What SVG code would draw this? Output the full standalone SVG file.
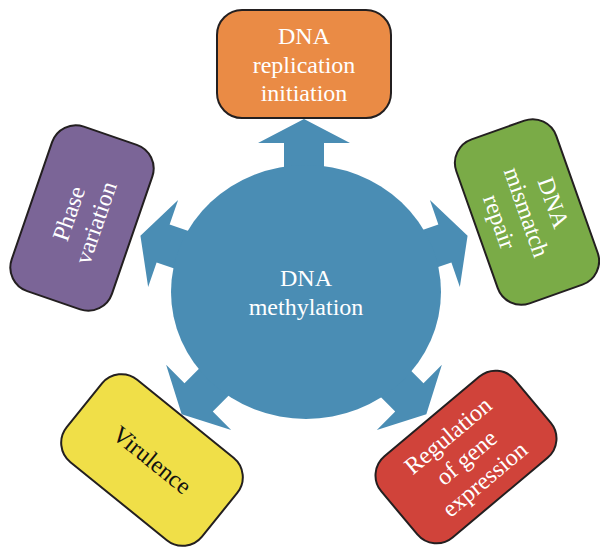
<svg xmlns="http://www.w3.org/2000/svg" width="600" height="547" viewBox="0 0 600 547">
<defs>
<style>
.box{stroke:#231f20;stroke-width:2}
.t{font-family:"Liberation Serif","Times New Roman",serif;font-size:24px;text-anchor:middle;fill:#fff}
.dark{fill:#111}
.arrow{fill:#4a8db4}
</style>
<polygon id="arr" points="-20,-100 -20,-149 -46,-149 0,-173 46,-149 20,-149 20,-100"/>
</defs>
<rect width="600" height="547" fill="#fff"/>
<g id="connectors" class="arrow">
<use href="#arr" transform="translate(304,292) rotate(0)"/>
<use href="#arr" transform="translate(304,292) rotate(71)"/>
<use href="#arr" transform="translate(304,292) rotate(135)"/>
<use href="#arr" transform="translate(304,292) rotate(225)"/>
<use href="#arr" transform="translate(304,292) rotate(-71)"/>
</g>
<g id="dna-methylation">
<ellipse cx="306" cy="292" rx="135" ry="127" fill="#4a8db4"/>
<text class="t" x="306" y="286">DNA</text>
<text class="t" x="306" y="315">methylation</text>
</g>
<g id="replication" transform="translate(304,64)">
<rect class="box" x="-87" y="-54" width="174" height="108" rx="25" fill="#ea8b45"/>
<text class="t" x="0" y="-20">DNA</text>
<text class="t" x="0" y="8.5">replication</text>
<text class="t" x="0" y="37">initiation</text>
</g>
<g id="mismatch" transform="translate(527,212) rotate(70.5)">
<rect class="box" x="-87" y="-53" width="174" height="106" rx="25" fill="#7aab47"/>
<text class="t" x="0" y="-20">DNA</text>
<text class="t" x="0" y="8.5">mismatch</text>
<text class="t" x="0" y="37">repair</text>
</g>
<g id="regulation" transform="translate(466,457) rotate(-40)">
<rect class="box" x="-87" y="-53" width="174" height="106" rx="25" fill="#d0433a"/>
<text class="t" x="0" y="-20">Regulation</text>
<text class="t" x="0" y="8.5">of gene</text>
<text class="t" x="0" y="37">expression</text>
</g>
<g id="virulence" transform="translate(152,460) rotate(39)">
<rect class="box" x="-87" y="-53" width="174" height="106" rx="25" fill="#f0df48"/>
<text class="t dark" x="0" y="8">Virulence</text>
</g>
<g id="phase" transform="translate(82,218) rotate(-71)">
<rect class="box" x="-87" y="-53" width="174" height="106" rx="25" fill="#7b6597"/>
<text class="t" x="0" y="-6">Phase</text>
<text class="t" x="0" y="22.5">variation</text>
</g>
</svg>
